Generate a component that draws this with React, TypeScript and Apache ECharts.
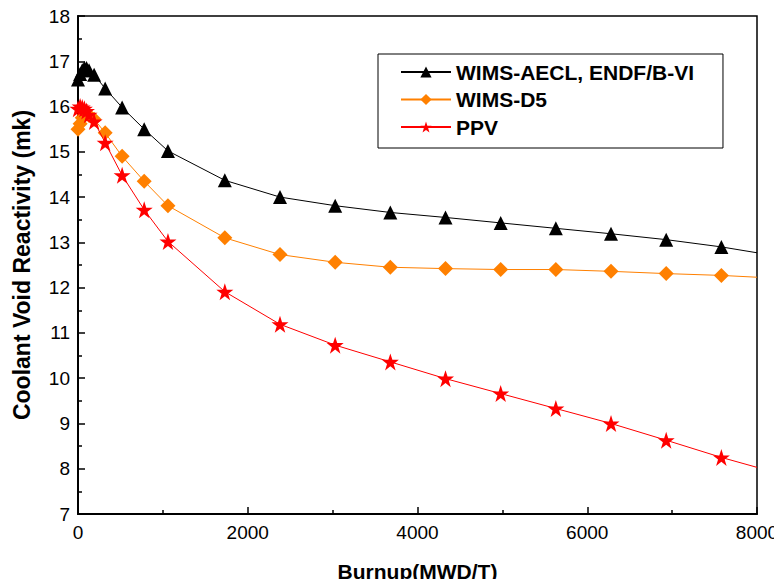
import React, { useEffect, useRef } from "react";
import * as echarts from "echarts";

const burnup = [0, 25, 50, 75, 100, 130, 190, 320, 520, 780, 1060, 1730, 2380, 3030, 3680, 4330, 4980, 5630, 6280, 6930, 7580, 8000];
const wimsAecl = [16.6, 16.72, 16.8, 16.85, 16.85, 16.8, 16.7, 16.4, 15.98, 15.5, 15.02, 14.37, 14.0, 13.81, 13.66, 13.55, 13.43, 13.31, 13.19, 13.06, 12.9, 12.77];
const wimsD5 = [15.5, 15.62, 15.75, 15.82, 15.85, 15.8, 15.72, 15.42, 14.9, 14.35, 13.81, 13.1, 12.73, 12.56, 12.45, 12.42, 12.4, 12.4, 12.36, 12.31, 12.27, 12.23];
const ppv = [15.95, 16.0, 15.98, 15.95, 15.9, 15.82, 15.67, 15.2, 14.48, 13.72, 13.02, 11.91, 11.19, 10.73, 10.36, 9.99, 9.66, 9.33, 9.0, 8.63, 8.25, 8.03];

const seriesNames = ["WIMS-AECL, ENDF/B-VI", "WIMS-D5", "PPV"];
const FONT = "'Liberation Sans', Arial, sans-serif";

function toData(vals: number[]) {
  return burnup.map((b, i) =>
    i === burnup.length - 1 ? { value: [b, vals[i]], symbol: "none" } : [b, vals[i]]
  );
}

export default function App() {
  const ref = useRef<HTMLDivElement>(null);
  useEffect(() => {
    if (!ref.current) return;
    const chart = echarts.init(ref.current, null, { renderer: "svg" });
    chart.setOption({
      animation: false,
      backgroundColor: "#ffffff",
      grid: {
        left: 78,
        right: 25,
        top: 16,
        bottom: 68,
        show: true,
        borderColor: "#000",
        borderWidth: 1.5,
      },
      legend: {
        orient: "vertical",
        left: 378,
        top: 54,
        padding: [7, 29, 10, 22],
        itemGap: 5.5,
        itemWidth: 50,
        itemHeight: 14,
        borderColor: "#000",
        borderWidth: 1,
        backgroundColor: "#fff",
        textStyle: { fontFamily: FONT, fontSize: 21, fontWeight: "bold", color: "#000", lineHeight: 22 },
        data: seriesNames,
      },
      xAxis: {
        type: "value",
        min: 0,
        max: 8000,
        interval: 2000,
        name: "Burnup(MWD/T)",
        nameLocation: "middle",
        nameGap: 47,
        nameTextStyle: { fontFamily: FONT, fontSize: 21, fontWeight: "bold", color: "#000" },
        axisLine: { show: true, lineStyle: { color: "#000", width: 2 } },
        axisTick: { show: true, inside: true, length: 7, lineStyle: { color: "#000", width: 1.5 } },
        minorTick: { show: true, splitNumber: 2, length: 4, lineStyle: { color: "#000", width: 1.5 } },
        axisLabel: { fontFamily: FONT, fontSize: 19, color: "#000", margin: 9, formatter: (v: number) => String(v) },
        splitLine: { show: false },
      },
      yAxis: {
        type: "value",
        min: 7,
        max: 18,
        interval: 1,
        name: "Coolant Void Reactivity (mk)",
        nameLocation: "middle",
        nameGap: 45,
        nameTextStyle: { fontFamily: FONT, fontSize: 23, fontWeight: "bold", color: "#000" },
        axisLine: { show: true, lineStyle: { color: "#000", width: 2 } },
        axisTick: { show: true, inside: true, length: 7, lineStyle: { color: "#000", width: 1.5 } },
        minorTick: { show: true, splitNumber: 2, length: 4, lineStyle: { color: "#000", width: 1.5 } },
        axisLabel: { fontFamily: FONT, fontSize: 19, color: "#000", margin: 8 },
        splitLine: { show: false },
      },
      series: [
        {
          name: seriesNames[0],
          type: "line",
          data: toData(wimsAecl),
          symbol: "triangle",
          symbolSize: 14,
          color: "#000000",
          lineStyle: { color: "#000000", width: 1 },
          itemStyle: { color: "#000000" },
          z: 3,
        },
        {
          name: seriesNames[1],
          type: "line",
          data: toData(wimsD5),
          symbol: "diamond",
          symbolSize: 15,
          color: "#ff8000",
          lineStyle: { color: "#ff8000", width: 1 },
          itemStyle: { color: "#ff8000" },
          z: 4,
        },
        {
          name: seriesNames[2],
          type: "line",
          data: toData(ppv),
          symbol: "path://M50,0 L61.8,35.3 L99,35.3 L69,57.3 L80.4,92.7 L50,70.7 L19.6,92.7 L31,57.3 L1,35.3 L38.2,35.3 Z",
          symbolSize: 17,
          color: "#ff0000",
          lineStyle: { color: "#ff0000", width: 1 },
          itemStyle: { color: "#ff0000" },
          z: 5,
        },
      ],
    });
    return () => chart.dispose();
  }, []);
  return <div ref={ref} style={{ width: 782, height: 587, margin: -8 }} />;
}
